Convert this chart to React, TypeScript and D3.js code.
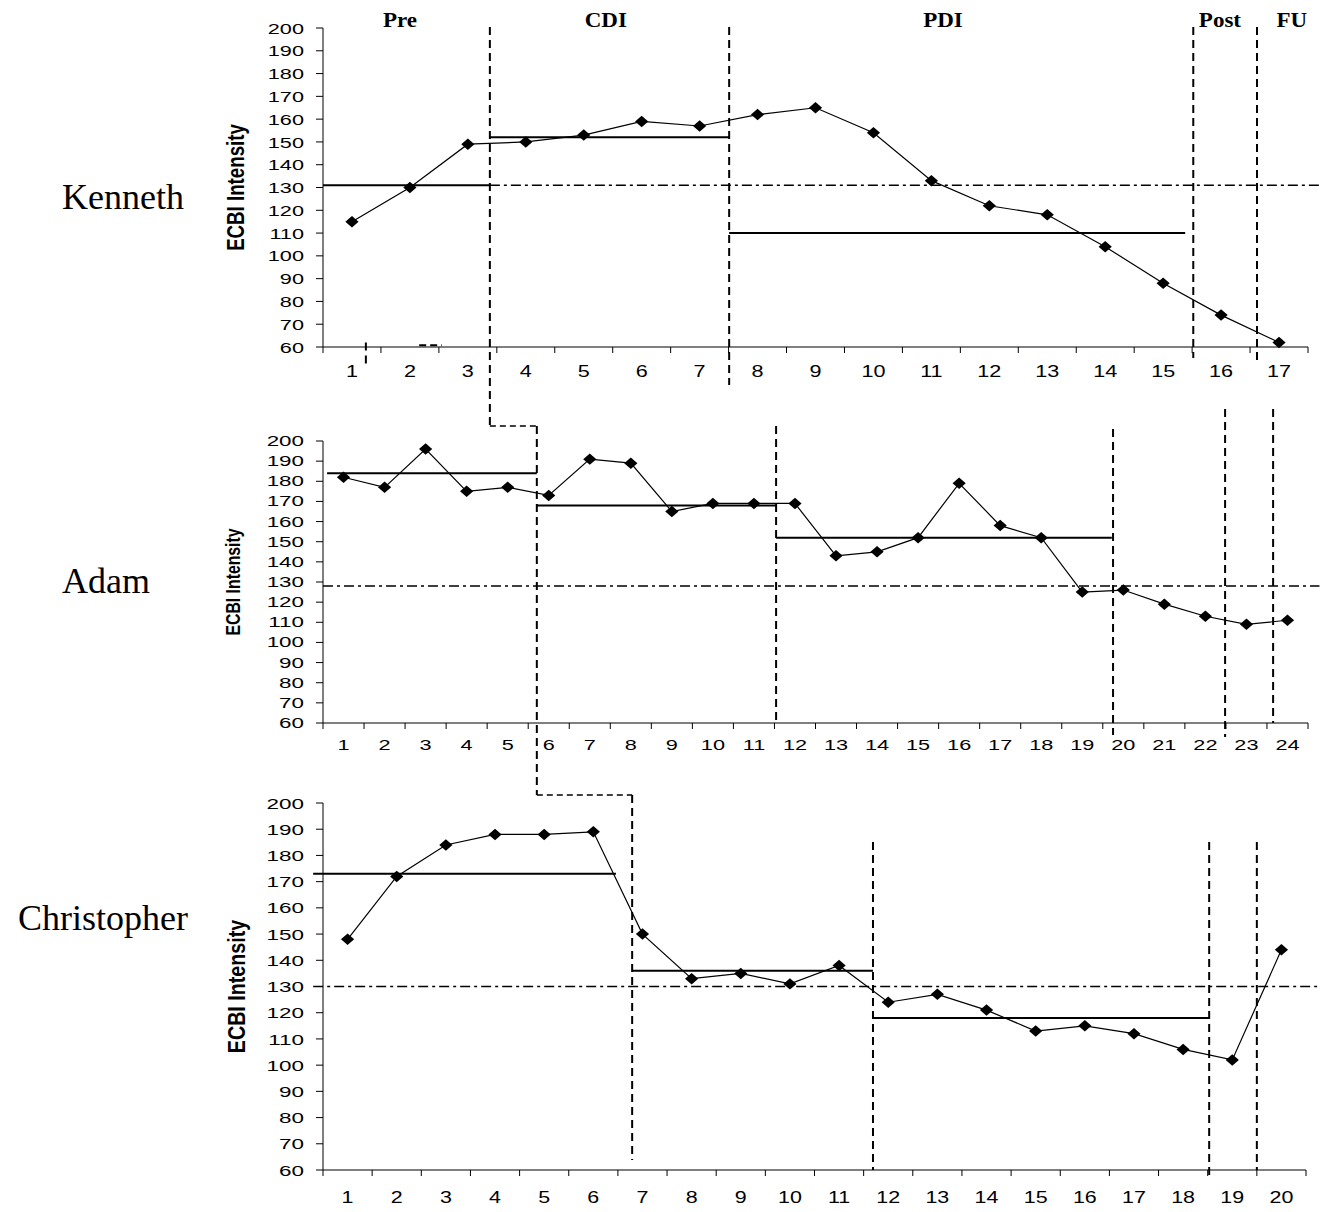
import React from 'react';
import * as d3 from 'd3';

// ---------- DATA ----------
const yTicks = [60, 70, 80, 90, 100, 110, 120, 130, 140, 150, 160, 170, 180, 190, 200];

const kennethValues = [115, 130, 149, 150, 153, 159, 157, 162, 165, 154, 133, 122, 118, 104, 88, 74, 62];
const adamValues = [182, 177, 196, 175, 177, 173, 191, 189, 165, 169, 169, 169, 143, 145, 152, 179, 158, 152, 125, 126, 119, 113, 109, 111];
const christopherValues = [148, 172, 184, 188, 188, 189, 150, 133, 135, 131, 138, 124, 127, 121, 113, 115, 112, 106, 102, 144];

const participantNames = ['Kenneth', 'Adam', 'Christopher'];

// phase means (value) and their spans in session units
const kennethMeans = [131, 152, 110];
const kennethMeanSpans = [[0.5, 3.38], [3.38, 7.51], [7.51, 15.38]];
const adamMeans = [184, 168, 152];
const adamMeanSpans = [[0.6, 5.71], [5.71, 11.54], [11.54, 19.72]];
const christopherMeans = [173, 136, 118];
const christopherMeanSpans = [[0.3, 6.46], [6.79, 11.69], [11.69, 18.53]];

// clinical cutoff (dash-dot) and span in session units
const kennethCutoff = 131;
const kennethCutoffSpan = [3.38, 17.7];
const adamCutoff = 128;
const adamCutoffSpan = [0.5, 24.78];
const christopherCutoff = 130;
const christopherCutoffSpan = [0.3, 20.77];

// phase change lines (session units); first entry is the staircase line
const kennethPhaseBreaks = [3.38, 7.51, 15.52, 16.62];
const adamPhaseBreaks = [5.71, 11.54, 19.75, 22.48, 23.65];
const christopherPhaseBreaks = [6.79, 11.69, 18.53, 19.5];

const phaseLabels = ['Pre', 'CDI', 'PDI', 'Post', 'FU'];
const phaseLabelSessions = [1.83, 5.38, 11.2, 15.98, 17.22];

// ---------- LAYOUT ----------
const layouts = [
  {
    top: 28, bottom: 347, left: 323, right: 1308,
    yFont: 15.5, ySx: 1.4, xFont: 16, xSx: 1.35, xLabelDy: 30,
    titleFont: 18.7, titleX: 236, titleSx: 1.25,
    nameX: 62, nameY: 209,
    breakExtents: [null, [27, 385], [27, 358], [27, 362]],
  },
  {
    top: 441, bottom: 723, left: 323, right: 1308,
    yFont: 14, ySx: 1.6, xFont: 14, xSx: 1.55, xLabelDy: 27,
    titleFont: 15.8, titleX: 233, titleSx: 1.25,
    nameX: 62, nameY: 593,
    breakExtents: [null, [426, 723], [429, 735], [409, 737], [409, 723]],
  },
  {
    top: 803, bottom: 1170, left: 323, right: 1306,
    yFont: 15.5, ySx: 1.45, xFont: 16.5, xSx: 1.3, xLabelDy: 33,
    titleFont: 19.7, titleX: 236, titleSx: 1.25,
    nameX: 18, nameY: 930,
    breakExtents: [null, [842, 1170], [842, 1176], [842, 1170]],
  },
];

const SANS = '"Liberation Sans", Arial, sans-serif';
const SERIF = '"Liberation Serif", "Times New Roman", serif';

type PanelData = {
  values: number[];
  means: number[];
  meanSpans: number[][];
  cutoff: number;
  cutoffSpan: number[];
  breaks: number[];
};

const panelData: PanelData[] = [
  { values: kennethValues, means: kennethMeans, meanSpans: kennethMeanSpans, cutoff: kennethCutoff, cutoffSpan: kennethCutoffSpan, breaks: kennethPhaseBreaks },
  { values: adamValues, means: adamMeans, meanSpans: adamMeanSpans, cutoff: adamCutoff, cutoffSpan: adamCutoffSpan, breaks: adamPhaseBreaks },
  { values: christopherValues, means: christopherMeans, meanSpans: christopherMeanSpans, cutoff: christopherCutoff, cutoffSpan: christopherCutoffSpan, breaks: christopherPhaseBreaks },
];

function makeScales(d: PanelData, l: any) {
  const n = d.values.length;
  const x = d3.scaleLinear().domain([0.5, n + 0.5]).range([l.left, l.right]);
  const y = d3.scaleLinear().domain([60, 200]).range([l.bottom, l.top]);
  return { x, y, n };
}

const Panel = ({ d, l, name }: { d: PanelData; l: any; name: string }) => {
  const { x, y, n } = makeScales(d, l);
  const sessions = d.values.map((_, i) => i + 1);
  const boundaries = d3.range(0, n + 1).map((i) => i + 0.5);
  const line = d3.line<number>().x((_, i) => x(i + 1)).y((v) => y(v));
  const diamond = d3.symbol().type(d3.symbolSquare).size(66)();
  return (
    <g>
      {/* participant name */}
      <text x={l.nameX} y={l.nameY} fontFamily={SERIF} fontSize={36}>{name}</text>
      {/* y title */}
      <text
        transform={`translate(${l.titleX + 0.36 * l.titleFont * l.titleSx},${(l.top + l.bottom) / 2}) scale(${l.titleSx},1) rotate(-90)`}
        fontFamily={SANS} fontWeight="bold" fontSize={l.titleFont} textAnchor="middle"
      >ECBI Intensity</text>
      {/* y axis */}
      <line x1={l.left} x2={l.left} y1={y(200)} y2={y(60)} stroke="#000" strokeWidth={1} />
      {yTicks.map((t) => (
        <g key={t}>
          <line x1={l.left - 7} x2={l.left} y1={y(t)} y2={y(t)} stroke="#000" strokeWidth={1} />
          <text transform={`translate(${l.left - 19},${y(t)}) scale(${l.ySx},1)`} dy="0.36em"
            fontFamily={SANS} fontSize={l.yFont} textAnchor="end">{t}</text>
        </g>
      ))}
      {/* x axis */}
      <line x1={l.left} x2={l.right} y1={l.bottom} y2={l.bottom} stroke="#000" strokeWidth={1} />
      {boundaries.map((b) => (
        <line key={b} x1={x(b)} x2={x(b)} y1={l.bottom} y2={l.bottom + 6} stroke="#000" strokeWidth={1} />
      ))}
      {sessions.map((s) => (
        <text key={s} transform={`translate(${x(s)},${l.bottom + l.xLabelDy}) scale(${l.xSx},1)`}
          fontFamily={SANS} fontSize={l.xFont} textAnchor="middle">{s}</text>
      ))}
      {/* cutoff dash-dot */}
      <line x1={x(d.cutoffSpan[0])} x2={x(d.cutoffSpan[1])} y1={y(d.cutoff)} y2={y(d.cutoff)}
        stroke="#000" strokeWidth={1.5} strokeDasharray="10 4 3 4" />
      {/* phase means */}
      {d.means.map((m, i) => (
        <line key={i} x1={x(d.meanSpans[i][0])} x2={x(d.meanSpans[i][1])} y1={y(m)} y2={y(m)}
          stroke="#000" strokeWidth={2} />
      ))}
      {/* phase break lines (except staircase) */}
      {d.breaks.map((b, i) => i === 0 ? null : (
        <line key={i} x1={x(b)} x2={x(b)} y1={l.breakExtents[i][0]} y2={l.breakExtents[i][1]}
          stroke="#000" strokeWidth={2} strokeDasharray="8 5" />
      ))}
      {/* data */}
      <path d={line(d.values) || ''} fill="none" stroke="#000" strokeWidth={1.2} />
      {d.values.map((v, i) => (
        <path key={i} d={diamond || ''} transform={`translate(${x(i + 1)},${y(v)}) scale(1.15,1) rotate(45)`} fill="#000" />
      ))}
    </g>
  );
};

export default function App() {
  const [kL, aL, cL] = layouts;
  const [kD, aD, cD] = panelData;
  const kS = makeScales(kD, kL);
  const aS = makeScales(aD, aL);
  const cS = makeScales(cD, cL);
  const stairY1 = 426;
  const stairY2 = 795;
  const kx = kS.x(kD.breaks[0]);
  const ax = aS.x(aD.breaks[0]);
  const cx = cS.x(cD.breaks[0]);
  return (
    <svg width={1326} height={1212} style={{ position: 'absolute', left: 0, top: 0, background: '#fff' }}>
      <rect x={0} y={0} width={1326} height={1212} fill="#fff" />
      {panelData.map((d, i) => (
        <Panel key={i} d={d} l={layouts[i]} name={participantNames[i]} />
      ))}
      {/* phase labels */}
      {phaseLabels.map((p, i) => (
        <text key={p} transform={`translate(${kS.x(phaseLabelSessions[i])},27) scale(1.15,1)`}
          fontFamily={SERIF} fontWeight="bold" fontSize={20} textAnchor="middle">{p}</text>
      ))}
      {/* multiple-baseline staircase */}
      <line x1={kx} x2={kx} y1={27} y2={stairY1} stroke="#000" strokeWidth={2} strokeDasharray="8 5" />
      <line x1={kx} x2={ax} y1={stairY1} y2={stairY1} stroke="#000" strokeWidth={1.5} strokeDasharray="6 4" />
      <line x1={ax} x2={ax} y1={stairY1} y2={stairY2} stroke="#000" strokeWidth={2} strokeDasharray="8 5" />
      <line x1={ax} x2={cx} y1={stairY2} y2={stairY2} stroke="#000" strokeWidth={1.5} strokeDasharray="6 4" />
      <line x1={cx} x2={cx} y1={stairY2} y2={1160} stroke="#000" strokeWidth={2} strokeDasharray="8 5" />
      {/* stray marks in Kenneth panel */}
      <line x1={kS.x(1.24)} x2={kS.x(1.24)} y1={kS.y(62)} y2={kS.y(52)} stroke="#000" strokeWidth={2} strokeDasharray="8 5" />
      <line x1={kS.x(2.16)} x2={kS.x(2.55)} y1={kS.y(60.8)} y2={kS.y(60.8)} stroke="#000" strokeWidth={2} strokeDasharray="7 4" />
    </svg>
  );
}
